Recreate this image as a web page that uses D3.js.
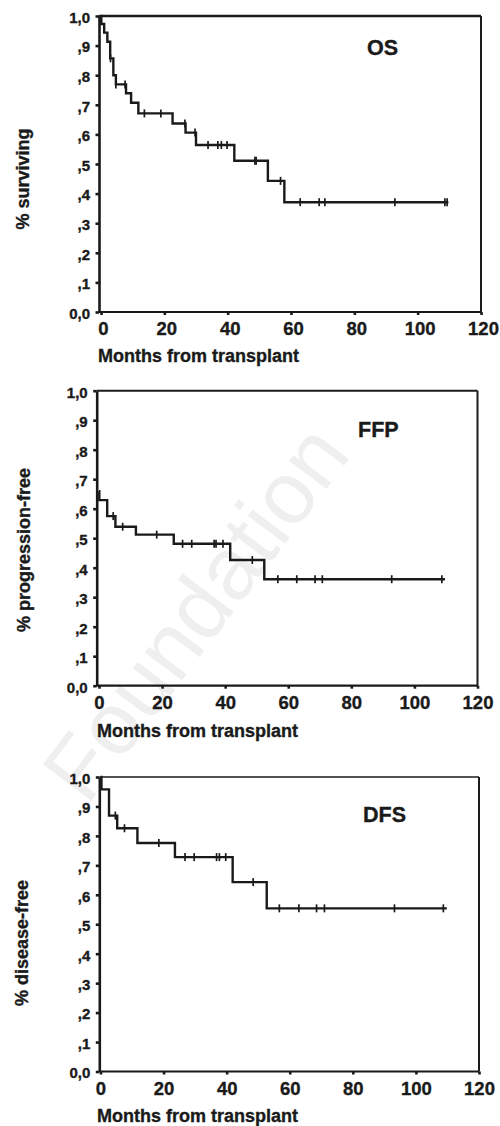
<!DOCTYPE html>
<html><head><meta charset="utf-8">
<script src="https://cdn.jsdelivr.net/npm/d3@7"></script>
<style>
html,body{margin:0;padding:0;background:#fff;}
svg{display:block;}
text{font-family:"Liberation Sans",Arial,sans-serif;}
.b{font-weight:bold;stroke:#1a1a1a;stroke-width:0.35px;}
</style>
</head><body>
<svg id="chart" width="500" height="1126"></svg>
<script>
// ---------- shared axis data ----------
const xTickValues = [0, 20, 40, 60, 80, 100, 120];
const yTickValues = [0, 0.1, 0.2, 0.3, 0.4, 0.5, 0.6, 0.7, 0.8, 0.9, 1.0];
const yTickLabels = ["0,0", ",1", ",2", ",3", ",4", ",5", ",6", ",7", ",8", ",9", "1,0"];
const xAxisTitle = "Months from transplant";
const watermarkText = "Foundation";

// ---------- OS ----------
const osTitle = "OS";
const osYLabel = "% surviving";
const osStart = 1.0;
const osEventTimes = [0.1, 1.0, 2.0, 2.9, 3.9, 4.7, 7.9, 9.5, 11.8, 22.6, 26.7, 30.0, 42.1, 52.7, 57.9];
const osSurvival   = [0.973, 0.944, 0.913, 0.857, 0.800, 0.769, 0.739, 0.707, 0.671, 0.637, 0.606, 0.564, 0.511, 0.443, 0.371];
const osCensorTimes = [3.0, 4.7, 7.6, 13.7, 18.9, 26.5, 29.7, 33.8, 36.9, 38.0, 39.8, 48.6, 49.0, 56.7, 62.9, 68.9, 70.7, 92.8, 108.6, 109.3];
const osEndTime = 109.7;

// ---------- FFP ----------
const ffpTitle = "FFP";
const ffpYLabel = "% progression-free";
const ffpStart = 0.659;
const ffpEventTimes = [0.1, 2.6, 5.2, 11.7, 23.7, 41.6, 52.4];
const ffpSurvival   = [0.629, 0.575, 0.539, 0.512, 0.481, 0.426, 0.361];
const ffpCensorTimes = [4.5, 7.5, 18.3, 26.5, 29.4, 36.5, 37.1, 39.3, 48.6, 56.7, 62.7, 68.5, 70.8, 92.8, 108.7];
const ffpEndTime = 109.7;

// ---------- DFS ----------
const dfsTitle = "DFS";
const dfsYLabel = "% disease-free";
const dfsStart = 1.0;
const dfsEventTimes = [0.3, 2.7, 5.3, 11.7, 23.6, 41.9, 52.7];
const dfsSurvival   = [0.958, 0.869, 0.826, 0.776, 0.728, 0.643, 0.554];
const dfsCensorTimes = [4.7, 7.6, 18.5, 26.8, 29.7, 36.8, 37.7, 39.7, 48.4, 56.7, 62.9, 68.5, 71.0, 93.2, 108.7];
const dfsEndTime = 109.8;

// ---------- layout ----------
const panels = [
  {title: osTitle, ylabel: osYLabel, start: osStart, times: osEventTimes, surv: osSurvival, censor: osCensorTimes, end: osEndTime,
   axisX: 99, x0: 101, x120: 481, top: 16, bottom: 312, titleX: 367, titleY: 55, ylabX: 29, ylabY: 179, xlabX: 98, xlabY: 362, labShift: 2, topW: 2.6},
  {title: ffpTitle, ylabel: ffpYLabel, start: ffpStart, times: ffpEventTimes, surv: ffpSurvival, censor: ffpCensorTimes, end: ffpEndTime,
   axisX: 96.7, x0: 99, x120: 477.5, top: 390.7, bottom: 685.7, titleX: 358, titleY: 436.5, ylabX: 30, ylabY: 550, xlabX: 97, xlabY: 736.5, labShift: 0, topW: 2},
  {title: dfsTitle, ylabel: dfsYLabel, start: dfsStart, times: dfsEventTimes, surv: dfsSurvival, censor: dfsCensorTimes, end: dfsEndTime,
   axisX: 99.3, x0: 100.5, x120: 479, top: 777, bottom: 1071.5, titleX: 363, titleY: 821.5, ylabX: 28, ylabY: 943, xlabX: 97, xlabY: 1121.5, labShift: 0, topW: 1.6}
];

const svg = d3.select("#chart");
const ink = "#1a1a1a";

// watermark (behind everything)
svg.append("text")
  .attr("transform", "translate(195,612) rotate(-53)")
  .attr("text-anchor", "middle")
  .attr("dy", "0.35em")
  .attr("font-size", 88)
  .attr("fill", "#efefef")
  .text(watermarkText);

panels.forEach(p => {
  const g = svg.append("g");
  const x = d3.scaleLinear().domain([0, 120]).range([p.x0, p.x120]);
  const y = d3.scaleLinear().domain([0, 1]).range([p.bottom, p.top]);

  // frame: top and right
  g.append("line").attr("x1", p.axisX).attr("x2", p.x120).attr("y1", p.top).attr("y2", p.top)
    .attr("stroke", ink).attr("stroke-width", p.topW);
  g.append("line").attr("x1", p.x120).attr("x2", p.x120).attr("y1", p.top).attr("y2", p.bottom)
    .attr("stroke", ink).attr("stroke-width", 2);

  // y axis
  const ya = g.append("g").attr("transform", `translate(${p.axisX},0)`)
    .call(d3.axisLeft(y).tickValues(yTickValues).tickFormat((d, i) => yTickLabels[i]).tickSize(3.5).tickSizeOuter(0).tickPadding(5.5));
  ya.attr("font-family", null);
  ya.select(".domain").attr("stroke", ink).attr("stroke-width", 2.6);
  ya.selectAll(".tick line").attr("stroke", ink).attr("stroke-width", 2.6);
  ya.selectAll(".tick text").attr("class", "b").style("font-size", "15px").attr("fill", ink).attr("dy", "0.42em");

  // x axis
  const xa = g.append("g").attr("transform", `translate(0,${p.bottom})`)
    .call(d3.axisBottom(x).tickValues(xTickValues).tickFormat(d3.format("d")).tickSize(3).tickSizeOuter(0).tickPadding(7));
  xa.attr("font-family", null);
  xa.select(".domain").attr("stroke", ink).attr("stroke-width", 2.2)
    .attr("d", `M${p.axisX},0H${p.x120}`);
  xa.selectAll(".tick line").attr("stroke", ink).attr("stroke-width", 2.6);
  xa.selectAll(".tick text").attr("class", "b").style("font-size", "18.5px").attr("fill", ink)
    .attr("dx", p.labShift);

  // KM step curve
  const pts = [[0, p.start]];
  p.times.forEach((t, i) => pts.push([t, p.surv[i]]));
  pts.push([p.end, p.surv[p.surv.length - 1]]);
  const line = d3.line().x(d => x(d[0])).y(d => y(d[1])).curve(d3.curveStepAfter);
  g.append("path").datum(pts).attr("d", line).attr("fill", "none")
    .attr("stroke", ink).attr("stroke-width", 2.4);

  // censor marks
  const survAt = t => {
    let s = p.start;
    p.times.forEach((et, i) => { if (et <= t) s = p.surv[i]; });
    return s;
  };
  g.selectAll(".cens").data(p.censor).enter().append("line")
    .attr("x1", d => x(d)).attr("x2", d => x(d))
    .attr("y1", d => y(survAt(d)) - 4).attr("y2", d => y(survAt(d)) + 4)
    .attr("stroke", ink).attr("stroke-width", 1.7);

  // panel title
  g.append("text").attr("class", "b").attr("x", p.titleX).attr("y", p.titleY)
    .style("font-size", "21.5px").attr("fill", ink).text(p.title);

  // axis titles
  g.append("text").attr("class", "b").attr("x", p.xlabX).attr("y", p.xlabY)
    .style("font-size", "18px").attr("fill", ink).text(xAxisTitle);
  g.append("text").attr("class", "b").attr("transform", `translate(${p.ylabX},${p.ylabY}) rotate(-90)`)
    .attr("text-anchor", "middle")
    .style("font-size", "18px").attr("fill", ink).text(p.ylabel);
});
</script>
</body></html>
